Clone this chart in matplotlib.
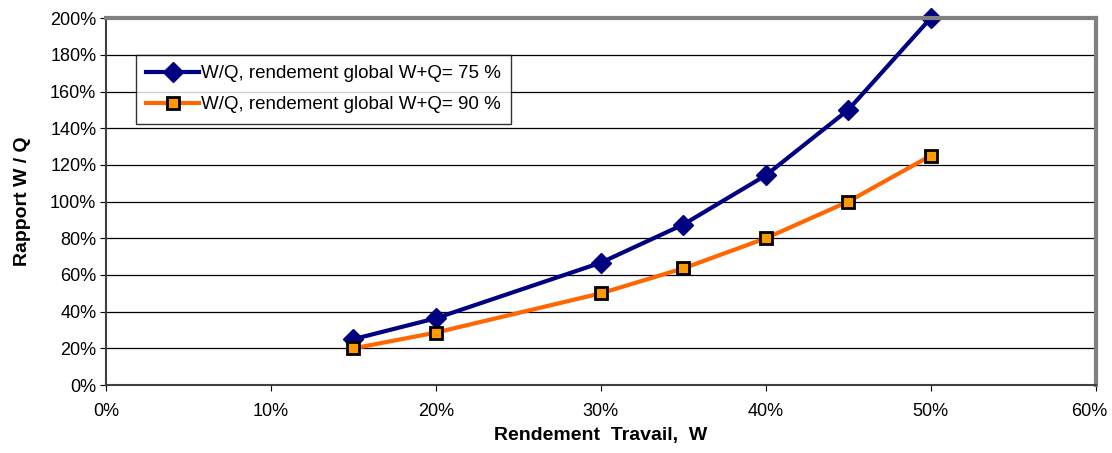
import matplotlib.pyplot as plt
import matplotlib.transforms as mtransforms
from matplotlib.ticker import PercentFormatter

plt.rcParams['font.family'] = ['Liberation Sans', 'DejaVu Sans']

# données
w = [15, 20, 30, 35, 40, 45, 50]
ratio_75 = [25, 36.4, 66.7, 87.5, 114.3, 150, 200]
ratio_90 = [20, 28.6, 50, 63.6, 80, 100, 125]

fig = plt.figure(figsize=(11.12, 4.53), dpi=100)
ax = fig.add_axes([0.0953, 0.150, 0.890, 0.810])

ax.plot(w, ratio_75, color='#000080', lw=3, marker='D', ms=10,
        mfc='#000080', mec='#000080', clip_on=False,
        label='W/Q, rendement global W+Q= 75 %')
ax.plot(w, ratio_90, color='#FF6600', lw=3, marker='s', ms=9,
        mfc='#FF9900', mec='black', mew=2, clip_on=False,
        label='W/Q, rendement global W+Q= 90 %')

ax.set_xlim(0, 60)
ax.set_ylim(0, 200)
ax.set_xticks(range(0, 61, 10))
ax.set_yticks(range(0, 201, 20))
ax.xaxis.set_major_formatter(PercentFormatter(decimals=0))
ax.yaxis.set_major_formatter(PercentFormatter(decimals=0))
ax.tick_params(labelsize=13, length=4, direction='out', color='black')
ax.tick_params(axis='x', pad=9)
ax.tick_params(axis='y', pad=3)
ax.grid(axis='y', color='black', lw=0.9)
ax.set_axisbelow(True)

# décaler un peu le dernier label pour qu'il reste dans l'image
fig.canvas.draw()
last = ax.get_xticklabels()[-1]
last.set_transform(last.get_transform() +
                   mtransforms.ScaledTranslation(-6 / 100, 0, fig.dpi_scale_trans))

for s in ['top', 'right']:
    ax.spines[s].set_color('#808080')
    ax.spines[s].set_linewidth(3)
for s in ['left', 'bottom']:
    ax.spines[s].set_color('#404040')
    ax.spines[s].set_linewidth(1.5)

ax.set_xlabel('Rendement  Travail,  W', fontsize=14, fontweight='bold', labelpad=5)
ax.set_ylabel('Rapport W / Q', fontsize=14, fontweight='bold', labelpad=14)

leg = ax.legend(loc='upper left', bbox_to_anchor=(0.021, 0.926), fontsize=13.5,
                frameon=True, fancybox=False, edgecolor='black',
                handlelength=2.8, handletextpad=0.1, borderpad=0.55,
                labelspacing=0.75)
leg.get_frame().set_linewidth(1)

fig.savefig('out.png', dpi=100)
